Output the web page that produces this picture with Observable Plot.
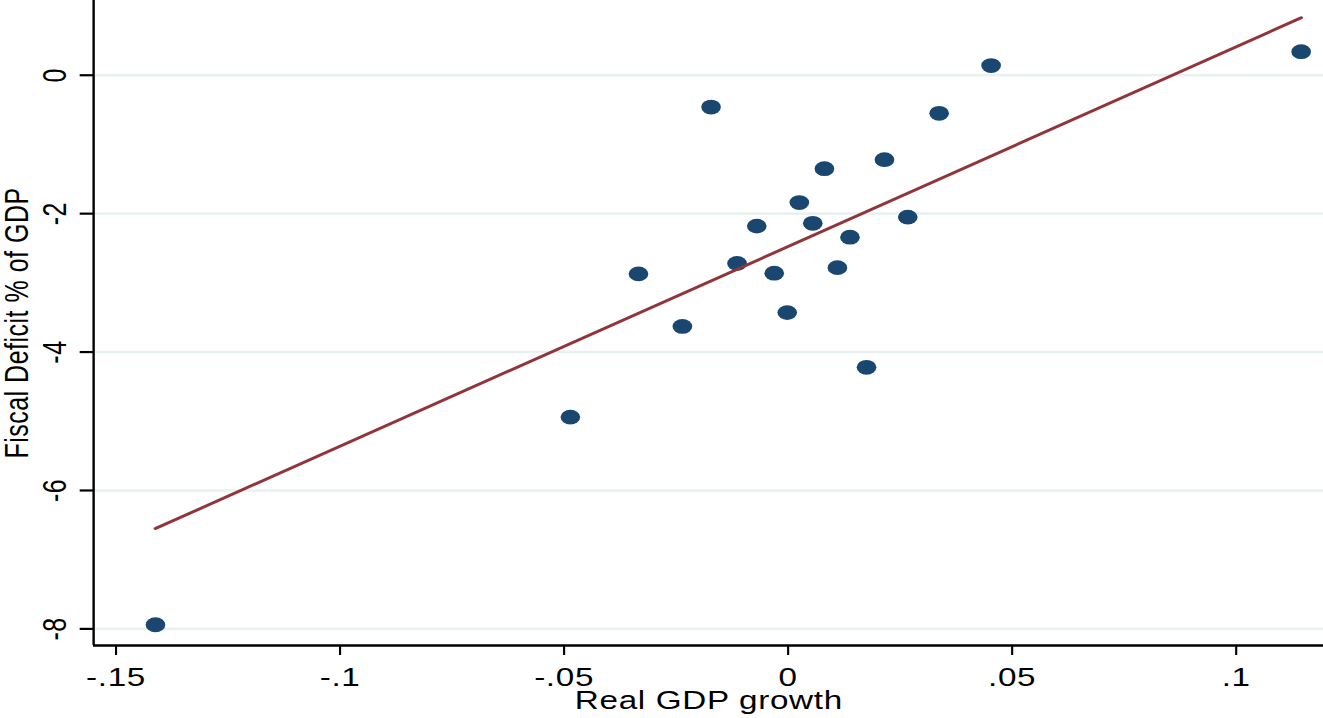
<!DOCTYPE html>
<html>
<head>
<meta charset="utf-8">
<script src="https://cdn.jsdelivr.net/npm/d3@7"></script>
<script src="https://cdn.jsdelivr.net/npm/@observablehq/plot@0.6"></script>
<style>
  html, body { margin: 0; padding: 0; background: #fff; overflow: hidden; }
  #chart svg { display: block; transform: scaleX(1.33); transform-origin: 0 0; }
  #chart svg text { letter-spacing: 0.5px; }
</style>
</head>
<body>
<div id="chart"></div>
<script>
// Real GDP growth (x) and fiscal deficit % of GDP (y)
const gdpGrowth = [-0.0172, 0.0337, 0.0215, 0.0081, 0.0025, -0.0070, 0.0055, 0.0267, 0.0138, -0.0114,
                   -0.0031, 0.0110, -0.0334, -0.0236, -0.0002, 0.0175, 0.0453, 0.1145, -0.0486, -0.1412];
const fiscalDeficit = [-0.46, -0.55, -1.22, -1.35, -1.84, -2.18, -2.14, -2.05, -2.34, -2.72,
                       -2.86, -2.78, -2.87, -3.63, -3.43, -4.22, 0.14, 0.34, -4.94, -7.94];
// fitted line end points
const fitX = [-0.1412, 0.1145];
const fitY = [-6.55, 0.83];
// axes
const xTicks = [-0.15, -0.1, -0.05, 0, 0.05, 0.1];
const xTickLabels = ["-.15", "-.1", "-.05", "0", ".05", ".1"];
const yTicks = [0, -2, -4, -6, -8];
const yTickLabels = ["0", "-2", "-4", "-6", "-8"];
const xDomain = [-0.155, 0.1196];
const yDomain = [-8.24, 1.08];
const xTitle = "Real GDP growth";
const yTitle = "Fiscal Deficit % of GDP";

const points = gdpGrowth.map((g, i) => ({x: g, y: fiscalDeficit[i]}));
const fit = fitX.map((x, i) => ({x, y: fitY[i]}));

const font = "Liberation Sans, Arial, sans-serif";
const chart = Plot.plot({
  width: 995,
  height: 718,
  marginLeft: 69.9,
  marginRight: 0,
  marginTop: 0,
  marginBottom: 73,
  style: {fontFamily: font, fontSize: "25px", background: "#fff", color: "#000"},
  x: {domain: xDomain},
  y: {domain: yDomain},
  marks: [
    Plot.ruleY(yTicks, {stroke: "#eaf1f2", strokeWidth: 2.6}),
    Plot.ruleX([xDomain[0]], {stroke: "#000", strokeWidth: 1.8}),
    Plot.ruleY([yDomain[0]], {stroke: "#000", strokeWidth: 2.6}),
    Plot.axisX(xTicks, {tickSize: 10, tickPadding: 13, strokeWidth: 1.6, fontSize: 25,
      tickFormat: d => xTickLabels[xTicks.indexOf(d)], label: null}),
    Plot.axisY(yTicks, {tickSize: 10, strokeWidth: 2.2, tickFormat: () => "", label: null}),
    Plot.text(yTicks, {y: d => d, text: d => yTickLabels[yTicks.indexOf(d)], frameAnchor: "left",
      dx: -21, rotate: -90, textAnchor: "middle", lineAnchor: "bottom", fontSize: 25}),
    Plot.text([yTitle], {text: d => d, frameAnchor: "left", dx: -49.5, rotate: -90,
      textAnchor: "middle", lineAnchor: "bottom", fontSize: 25}),
    Plot.text([xTitle], {text: d => d, frameAnchor: "bottom", dy: 63,
      textAnchor: "middle", lineAnchor: "bottom", fontSize: 25}),
    Plot.dot(points, {x: "x", y: "y", r: 7.4, fill: "#1a476f", stroke: "none"}),
    Plot.line(fit, {x: "x", y: "y", stroke: "#90353b", strokeWidth: 2.8})
  ]
});
document.getElementById("chart").append(chart);
</script>
</body>
</html>
